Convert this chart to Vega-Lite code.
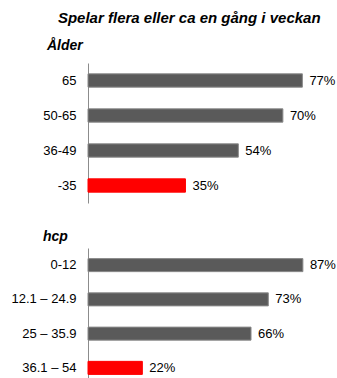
{
  "$schema": "https://vega.github.io/schema/vega-lite/v6.json",
  "padding": {"left": 10, "top": 11, "right": 0, "bottom": 0},
  "background": "white",
  "config": {
    "view": {"stroke": null},
    "font": "Liberation Sans",
    "concat": {"spacing": 27}
  },
  "title": {
    "text": "Spelar flera eller ca en gång i veckan",
    "font": "Liberation Sans",
    "fontSize": 15,
    "fontStyle": "italic",
    "fontWeight": "bold",
    "color": "#000000",
    "anchor": "start",
    "frame": "bounds",
    "dx": 47,
    "offset": 13
  },
  "data": {
    "values": [
      {"group": "Ålder", "category": "65", "value": 0.77, "highlight": "no"},
      {"group": "Ålder", "category": "50-65", "value": 0.70, "highlight": "no"},
      {"group": "Ålder", "category": "36-49", "value": 0.54, "highlight": "no"},
      {"group": "Ålder", "category": "-35", "value": 0.35, "highlight": "yes"},
      {"group": "hcp", "category": "0-12", "value": 0.87, "highlight": "no"},
      {"group": "hcp", "category": "12.1 – 24.9", "value": 0.73, "highlight": "no"},
      {"group": "hcp", "category": "25 – 35.9", "value": 0.66, "highlight": "no"},
      {"group": "hcp", "category": "36.1 – 54", "value": 0.22, "highlight": "yes"}
    ]
  },
  "vconcat": [
    {
      "title": {"text": "Ålder", "fontSize": 14, "fontStyle": "italic", "fontWeight": "bold", "anchor": "start", "frame": "group", "dx": -41, "offset": 10, "color": "#000000"},
      "width": 245,
      "height": 140,
      "transform": [{"filter": "datum.group === 'Ålder'"}],
      "encoding": {
        "y": {"field": "category", "type": "nominal", "sort": null, "scale": {"paddingInner": 0.62, "paddingOuter": 0.31},
          "axis": {"title": null, "ticks": false, "labelPadding": 12, "labelFontSize": 13, "labelColor": "#000000", "domainColor": "#8c8c8c", "labelFont": "Liberation Sans"}},
        "x": {"field": "value", "type": "quantitative", "scale": {"domain": [0, 0.88], "nice": false}, "axis": null}
      },
      "layer": [
        {"mark": {"type": "bar", "strokeWidth": 1},
         "encoding": {
           "color": {"field": "highlight", "type": "nominal", "scale": {"domain": ["no", "yes"], "range": ["#5a5a5a", "#ff0000"]}, "legend": null},
           "stroke": {"field": "highlight", "type": "nominal", "scale": {"domain": ["no", "yes"], "range": ["#8a8a8a", "#ff0000"]}, "legend": null}
         }},
        {"mark": {"type": "text", "align": "left", "dx": 7, "fontSize": 13, "color": "#000000", "font": "Liberation Sans"},
         "encoding": {"text": {"field": "value", "type": "quantitative", "format": ".0%"}}}
      ]
    },
    {
      "title": {"text": "hcp", "fontSize": 14, "fontStyle": "italic", "fontWeight": "bold", "anchor": "start", "frame": "group", "dx": -45, "offset": 4, "color": "#000000"},
      "width": 247,
      "height": 137,
      "transform": [{"filter": "datum.group === 'hcp'"}],
      "encoding": {
        "y": {"field": "category", "type": "nominal", "sort": null, "scale": {"paddingInner": 0.62, "paddingOuter": 0.31},
          "axis": {"title": null, "ticks": false, "labelPadding": 12, "labelFontSize": 13, "labelColor": "#000000", "domainColor": "#8c8c8c", "labelFont": "Liberation Sans"}},
        "x": {"field": "value", "type": "quantitative", "scale": {"domain": [0, 1], "nice": false}, "axis": null}
      },
      "layer": [
        {"mark": {"type": "bar", "strokeWidth": 1},
         "encoding": {
           "color": {"field": "highlight", "type": "nominal", "scale": {"domain": ["no", "yes"], "range": ["#5a5a5a", "#ff0000"]}, "legend": null},
           "stroke": {"field": "highlight", "type": "nominal", "scale": {"domain": ["no", "yes"], "range": ["#8a8a8a", "#ff0000"]}, "legend": null}
         }},
        {"mark": {"type": "text", "align": "left", "dx": 7, "fontSize": 13, "color": "#000000", "font": "Liberation Sans"},
         "encoding": {"text": {"field": "value", "type": "quantitative", "format": ".0%"}}}
      ]
    }
  ]
}
